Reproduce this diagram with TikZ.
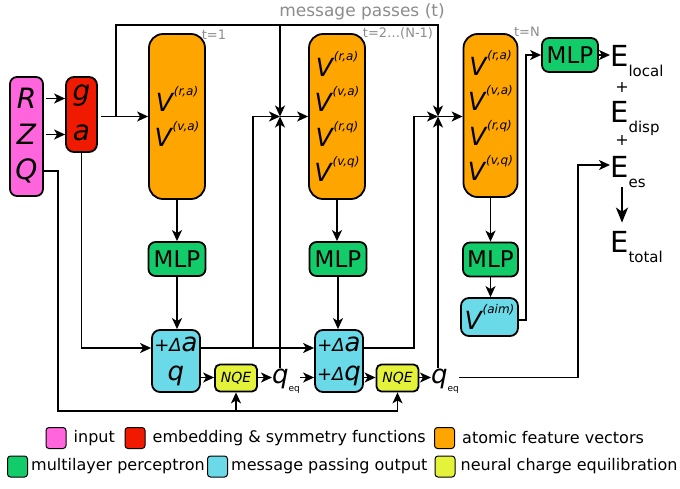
\documentclass[tikz,border=0pt]{standalone}
\usepackage{fontspec}
\setmainfont{DejaVu Sans}
\usetikzlibrary{arrows.meta,positioning,calc}
\definecolor{pinkbox}{HTML}{FF66DD}
\definecolor{redbox}{HTML}{F01A00}
\definecolor{orangebox}{HTML}{FFA500}
\definecolor{greenbox}{HTML}{12CC6A}
\definecolor{cyanbox}{HTML}{6AD9E8}
\definecolor{yellowbox}{HTML}{E4F23A}
\definecolor{labelgray}{HTML}{8C8C8C}
\newcommand{\featv}[1]{V\kern1pt\raisebox{16pt}{\fontsize{12}{12}\selectfont (#1)}}
\newcommand{\incr}{{\fontsize{18}{18}\selectfont +Δ}}
\newcommand{\qsub}[1]{\raisebox{-8pt}{\fontsize{9}{9}\selectfont\upshape #1}}
\newcommand{\esub}[1]{\raisebox{-10pt}{\fontsize{15}{15}\selectfont #1}}
\tikzset{
  box/.style={draw=black,line width=1.8pt,rounded corners=7pt,inner sep=0pt,align=center},
  inbox/.style={box,fill=pinkbox},
  embbox/.style={box,fill=redbox,rounded corners=8pt},
  featbox/.style={box,fill=orangebox,rounded corners=14pt,minimum width=56pt,minimum height=165pt,font=\fontsize{25}{35}\selectfont\itshape},
  mlpbox/.style={box,fill=greenbox,minimum width=57pt,minimum height=34pt,font=\fontsize{23}{23}\selectfont},
  mpbox/.style={box,fill=cyanbox,rounded corners=8pt,font=\fontsize{26}{29}\selectfont\itshape},
  nqebox/.style={box,fill=yellowbox,rounded corners=5pt,minimum width=42pt,minimum height=27pt,font=\fontsize{14}{14}\selectfont\itshape},
  letter/.style={inner sep=0pt,font=\fontsize{28}{28}\selectfont\itshape},
  qnode/.style={inner sep=0pt,anchor=base west,font=\fontsize{26}{26}\selectfont\itshape},
  enode/.style={inner sep=0pt,anchor=base west,font=\fontsize{29}{29}\selectfont},
  plus/.style={inner sep=0pt,font=\fontsize{16}{16}\selectfont},
  tlabel/.style={inner sep=0pt,text=labelgray,font=\fontsize{13}{13}\selectfont},
  key/.style={draw=black,line width=1pt,rounded corners=3pt,minimum width=20pt,minimum height=21pt,inner sep=0pt},
  keytext/.style={inner sep=0pt,anchor=west,font=\fontsize{16}{16}\selectfont},
  flow/.style={-{Stealth[length=11pt,width=10pt,inset=3pt]},line width=1.5pt},
  bigflow/.style={-{Stealth[length=15pt,width=12pt,inset=4pt]},line width=2.4pt}
}
\begin{document}
\begin{tikzpicture}[x=1pt,y=-1pt]
\useasboundingbox (0,0) rectangle (680,488);

% input and embedding
\node[inbox,minimum width=33pt,minimum height=119pt] (inp) at (26.5,136.5) {};
\node[letter] (inpR) at (26.5,98.5) {R};
\node[letter] (inpZ) at (26.5,134.5) {Z};
\node[letter] (inpQ) at (26.5,171) {Q};
\node[embbox,minimum width=31pt,minimum height=75pt] (emb) at (81.5,114.5) {};
\node[letter] (embG) at (81.5,96) {g};
\node[letter] (embA) at (81.5,133) {a};

% feature vectors per pass
\node[featbox] (feat1) at (177,116.5) {\featv{r,a}\\\featv{v,a}};
\node[featbox] (feat2) at (337,116.5) {\featv{r,a}\\\featv{v,a}\\\featv{r,q}\\\featv{v,q}};
\node[featbox,minimum width=54pt,minimum height=163pt] (feat3) at (490.5,115.5) {\featv{r,a}\\\featv{v,a}\\\featv{r,q}\\\featv{v,q}};
\node[tlabel] (t1) at (214,35) {t=1};
\node[tlabel] (t2) at (398,33) {t=2…(N-1)};
\node[tlabel] (tN) at (527,32) {t=N};
\node[tlabel,font=\fontsize{17}{17}\selectfont] (mplabel) at (362,12) {message passes (t)};

\node[mlpbox] (mlp1) at (177,259) {MLP};
\node[mlpbox] (mlp2) at (338,259) {MLP};
\node[mlpbox,minimum width=55pt] (mlp3) at (490.5,259.5) {MLP};
\node[mlpbox,minimum width=56pt] (mlp4) at (570,55) {MLP};

\node[mpbox,minimum width=48pt,minimum height=62pt] (mp1) at (176,361) {\incr a\\q};
\node[mpbox,minimum width=48pt,minimum height=62pt] (mp2) at (339,361) {\incr a\\\incr q};
\node[mpbox,minimum width=57pt,minimum height=38pt,font=\fontsize{25}{25}\selectfont\itshape] (aim) at (489.5,317) {\featv{aim}};

\node[nqebox] (nqe1) at (236,378) {NQE};
\node[nqebox] (nqe2) at (397.5,378) {NQE};
\node[qnode] (qeq1) at (272,383) {q\qsub{eq}};
\node[qnode] (qeq2) at (431,383) {q\qsub{eq}};

% energies
\node[enode] (elocal) at (610,66) {E\esub{local}};
\node[plus] (plus1) at (622,87) {+};
\node[enode] (edisp) at (610,122) {E\esub{disp}};
\node[plus] (plus2) at (622,140) {+};
\node[enode] (ees) at (610,177) {E\esub{es}};
\node[enode] (etotal) at (610,252) {E\esub{total}};

% helper points
\coordinate (j1) at (280,116.5);
\coordinate (j2) at (438,116.5);
\coordinate (split) at (116,116.5);
\coordinate (mptop) at (116,25);
\coordinate (rowA) at (0,348);
\coordinate (rowQe) at (0,377.5);
\coordinate (qbus) at (58,411);
\coordinate (br1) at (253,348);
\coordinate (br2) at (414,116.5);
\coordinate (esbend) at (578,165);
\coordinate (aimbend) at (526,55);
\coordinate (rowAim) at (0,320);

% connectors
\draw[flow,shorten <=2pt] (inpR -| inp.east) -- (inpR -| emb.west);
\draw[flow,shorten <=2pt] (inpZ -| inp.east) -- (inpZ -| emb.west);
\draw[flow] (inpQ -| inp.east) -| (qbus) -| (nqe2.south);
\draw[flow] (qbus -| nqe1.south) -- (nqe1.south);
\draw[flow,shorten <=3pt] (emb.east |- feat1) -- (feat1.west);
\draw[flow] (split) -- (mptop) -| (j2);
\draw[flow] (mptop -| j1) -- (j1);
\draw[flow] (emb.south) |- (mp1.west |- rowA);

\draw[flow] (feat1.south) -- (feat1.south |- mlp1.north);
\draw[flow] (mlp1.south) -- (mlp1.south |- mp1.north);
\draw[flow] (mp1.east |- rowQe) -- (nqe1.west |- rowQe);
\draw[flow] (nqe1.east |- rowQe) -- (qeq1.west |- rowQe);
\draw[flow] (qeq1.east |- rowQe) -- (mp2.west |- rowQe);
\draw[flow] (mp1.east |- rowA) -- (mp2.west |- rowA);
\draw[flow] (br1) |- (j1);
\draw[flow] (qeq1.north -| j1) -- (j1);
\draw[flow] (j1) -- (feat2.west |- j1);

\draw[flow] (feat2.south) -- (feat2.south |- mlp2.north);
\draw[flow] (mlp2.south) -- (mlp2.south |- mp2.north);
\draw[flow] (mp2.east |- rowQe) -- (nqe2.west |- rowQe);
\draw[flow] (nqe2.east |- rowQe) -- (qeq2.west |- rowQe);
\draw[flow] (mp2.east |- rowA) -| (br2) -- (j2);
\draw[flow] (qeq2.north -| j2) -- (j2);
\draw[flow] (j2) -- (feat3.west |- j2);
\draw[flow] (qeq2.east |- rowQe) -| (esbend) -- (ees.west |- esbend);

\draw[flow] (feat3.south) -- (feat3.south |- mlp3.north);
\draw[flow] (mlp3.south) -- (mlp3.south |- aim.north);
\draw[flow] (aim.east |- rowAim) -| (aimbend) -- (mlp4.west);
\draw[flow] (mlp4.east) -- (elocal.west |- mlp4.east);
\draw[bigflow,shorten >=8pt] (ees.south -| plus1) -- (etotal.north -| plus1);

% legend
\node[key,fill=pinkbox] (keyin) at (56,438) {};
\node[keytext,right=7pt of keyin] (txtin) {input};
\node[key,fill=redbox] (keyemb) at (135,438) {};
\node[keytext,right=7pt of keyemb] (txtemb) {embedding \& symmetry functions};
\node[key,fill=orangebox] (keyfeat) at (444.5,438) {};
\node[keytext,right=7pt of keyfeat] (txtfeat) {atomic feature vectors};
\node[key,fill=greenbox] (keymlp) at (17.5,466.5) {};
\node[keytext,right=3pt of keymlp] (txtmlp) {multilayer perceptron};
\node[key,fill=cyanbox] (keymp) at (217.5,466.5) {};
\node[keytext,right=3pt of keymp] (txtmp) {message passing output};
\node[key,fill=yellowbox] (keynqe) at (445,466.5) {};
\node[keytext,right=5pt of keynqe] (txtnqe) {neural charge equilibration};
\end{tikzpicture}
\end{document}
